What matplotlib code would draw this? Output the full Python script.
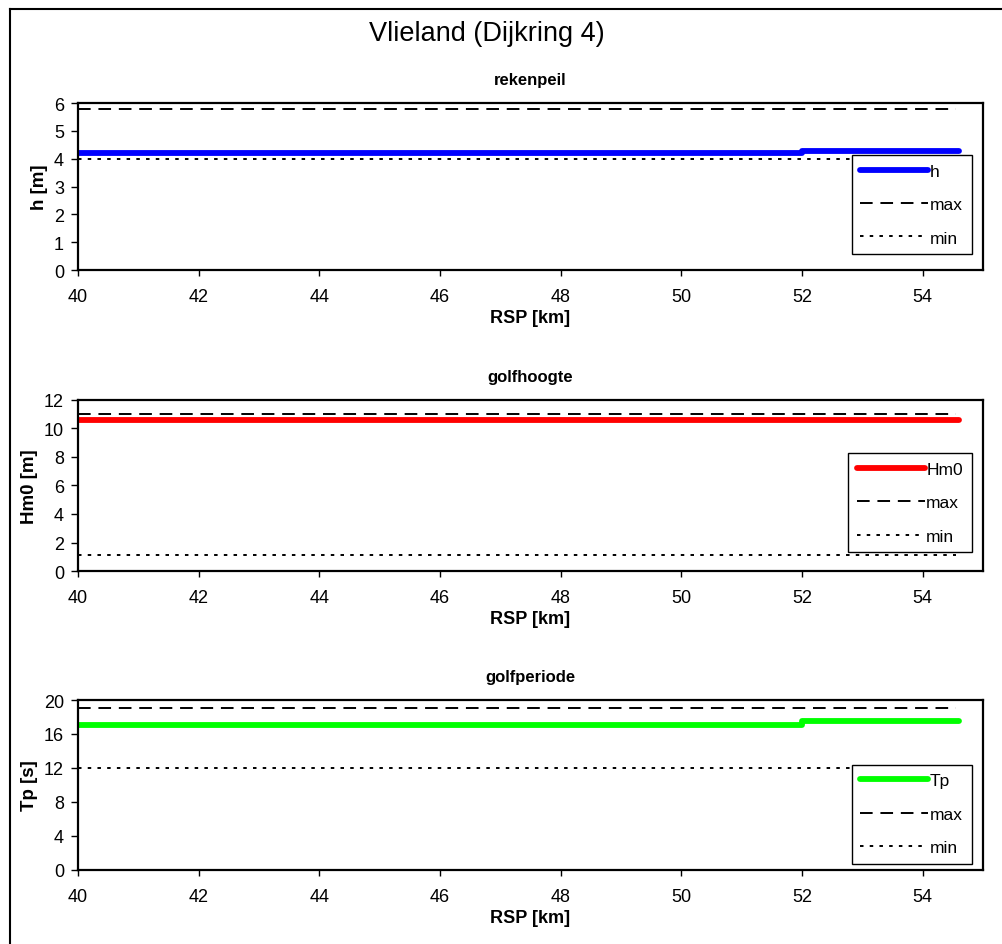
import matplotlib.pyplot as plt
from matplotlib.lines import Line2D

plt.rcParams['font.family'] = ['Liberation Sans', 'DejaVu Sans']

# RSP [km] and values per panel
rsp = [40, 52, 52, 54.6]
rsp_lim = [40, 54.55]

h = [4.2, 4.2, 4.27, 4.27]
h_max = [5.8, 5.8]
h_min = [4.0, 4.0]

hm0 = [10.6, 10.6, 10.6, 10.6]
hm0_max = [11.0, 11.0]
hm0_min = [1.1, 1.1]

tp = [17.1, 17.1, 17.5, 17.5]
tp_max = [19.0, 19.0]
tp_min = [12.0, 12.0]

panels = [
    ('rekenpeil', 'h [m]', 'h', '#0000ff', h, h_max, h_min, (0, 6), range(0, 7, 1),
     [0.0778, 0.7132, 0.9032, 0.1767], (0.855, 0.689)),
    ('golfhoogte', 'Hm0 [m]', 'Hm0', '#ff0000', hm0, hm0_max, hm0_min, (0, 12), range(0, 13, 2),
     [0.0778, 0.3947, 0.9032, 0.1810], (0.851, 0.690)),
    ('golfperiode', 'Tp [s]', 'Tp', '#00ff00', tp, tp_max, tp_min, (0, 20), range(0, 21, 4),
     [0.0778, 0.0786, 0.9032, 0.1796], (0.855, 0.619)),
]

fig = plt.figure(figsize=(10.02, 9.45), dpi=100)

# border on left and top of figure
fig.add_artist(Line2D([10 / 1002, 10 / 1002], [0, 1 - 10 / 945], color='black', lw=1.5, transform=fig.transFigure))
fig.add_artist(Line2D([10 / 1002, 1], [1 - 10 / 945, 1 - 10 / 945], color='black', lw=1.5, transform=fig.transFigure))

fig.text(487 / 1002, 1 - 34 / 945, 'Vlieland (Dijkring 4)', ha='center', va='center', fontsize=19.5)

for title, ylab, name, col, vals, vmax, vmin, ylim, yt, pos, legpos in panels:
    ax = fig.add_axes(pos)
    ax.plot(rsp, vals, color=col, lw=4.2, solid_capstyle='round', label=name)
    ax.plot(rsp_lim, vmax, color='black', lw=1.4, dashes=(6.5, 4), label='max')
    ax.plot(rsp_lim, vmin, color='black', lw=1.4, dashes=(1.8, 3.2), label='min')
    ax.set_xlim(40, 55)
    ax.set_ylim(*ylim)
    ax.set_xticks(range(40, 55, 2))
    ax.set_yticks(list(yt))
    ax.tick_params(axis='x', direction='out', length=4, labelsize=13, width=1, pad=9)
    ax.tick_params(axis='y', direction='out', length=5, labelsize=13, width=1, pad=5)
    for s in ax.spines.values():
        s.set_linewidth(1.6)
    ax.set_title(title, fontsize=12, fontweight='bold', pad=14)
    ax.set_xlabel('RSP [km]', fontsize=13, fontweight='bold', labelpad=3)
    ax.set_ylabel(ylab, fontsize=13.5, fontweight='bold', labelpad=4)
    leg = ax.legend(loc='upper left', bbox_to_anchor=legpos, fontsize=12.5, frameon=True,
                    fancybox=False, edgecolor='black', framealpha=1, labelspacing=1.05,
                    handlelength=3.9, handletextpad=0.1, borderpad=0.5, borderaxespad=0)
    leg.get_frame().set_linewidth(1.0)

fig.savefig('out.png', dpi=100)
